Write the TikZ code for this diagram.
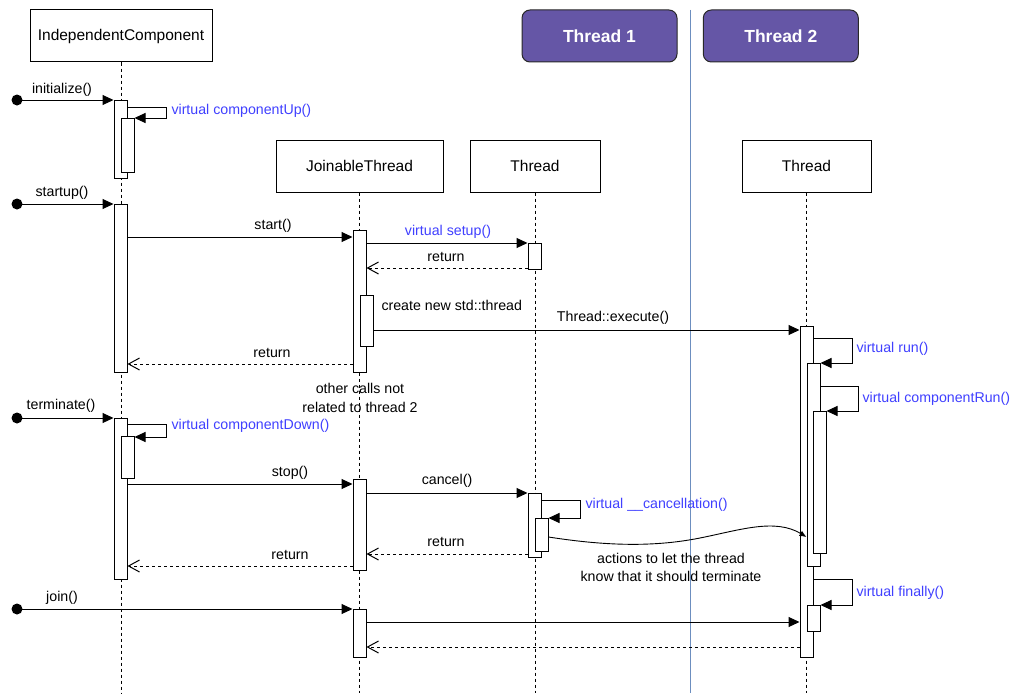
\documentclass[tikz,border=0pt]{standalone}
\usepackage{fontspec}
\setmainfont{Liberation Sans}
\usetikzlibrary{arrows.meta}

\definecolor{virt}{RGB}{64,64,255}
\definecolor{hdrfill}{RGB}{101,86,166}
\definecolor{hdrline}{RGB}{40,40,40}
\definecolor{divblue}{RGB}{108,142,191}

% activation bar: name, left x, top y, bottom y
\newcommand\actnode[4]{\node[act, minimum height={#4-#3}] (#1) at ({#2+6.5},{(#3+#4)/2}) {};}

\begin{document}
\begin{tikzpicture}[x=1pt, y=-1pt, line width=1pt,
  every node/.style={font=\fontsize{14.2}{18.5}\selectfont, inner sep=0pt},
  objbox/.style={draw, fill=white, minimum height=52pt, font=\fontsize{15.5}{18}\selectfont},
  hdrbox/.style={draw=hdrline, fill=hdrfill, rounded corners=8pt, text=white,
    minimum width=155pt, minimum height=52pt, font=\fontsize{17.5}{20}\selectfont\bfseries},
  act/.style={draw, fill=white, minimum width=13pt},
  lifeline/.style={dash pattern=on 3pt off 3pt},
  startdot/.style={circle, fill=black, minimum size=11pt},
  call/.style={-{Triangle[length=11pt,width=10pt]}},
  ret/.style={dash pattern=on 3pt off 3pt, -{Straight Barb[length=11pt,width=12pt]}},
  note/.style={-{Latex[length=7pt,width=6pt]}},
  lbl/.style={text=black},
  vlbl/.style={text=virt, anchor=west},
]
\useasboundingbox[fill=white] (0,0) rectangle (1011,693);

% thread divider
\coordinate (divtop) at (690,10);
\coordinate (divbot) at (690,693);
\draw[divblue] (divtop) -- (divbot);

% participants
\node[objbox, minimum width=182pt] (ic) at (121,36) {IndependentComponent};
\node[objbox, minimum width=167pt] (jt) at (359.5,166) {JoinableThread};
\node[objbox, minimum width=130pt] (tha) at (535,166) {Thread};
\node[objbox, minimum width=129pt] (thb) at (806.5,166) {Thread};
\node[hdrbox] (h1) at (599.5,36) {Thread 1};
\node[hdrbox] (h2) at (780.8,36) {Thread 2};

% lifelines
\foreach \p in {ic, jt, tha, thb}
  \draw[lifeline] (\p.south) -- (\p.south |- 0,693);

% activation bars
\actnode{ic1}{114}{100}{178}
\actnode{ic1n}{121}{118}{172}
\actnode{ic2}{114}{204}{372}
\actnode{ic3}{114}{418}{579}
\actnode{ic3n}{121}{436}{478}
\actnode{jt1}{353}{230}{372}
\actnode{jt1n}{360}{295}{346}
\actnode{jt2}{353}{479}{570}
\actnode{jt3}{353}{609}{657}
\actnode{ta1}{528}{243}{269}
\actnode{ta2}{528}{493}{557}
\actnode{ta2n}{535}{518}{551}
\actnode{tb1}{800}{326}{657}
\actnode{tb1n}{807}{363}{566}
\actnode{tb1nn}{813}{411}{553}
\actnode{tb1f}{807}{605}{631}

% entry points
\node[startdot] (d1) at (17,100) {};
\node[startdot] (d2) at (17,204) {};
\node[startdot] (d3) at (17,418) {};
\node[startdot] (d4) at (17,609) {};

% initialize()
\draw[call] (d1.center) -- (ic1.west |- 0,100);
\node[lbl] (l1) at (62,90) {initialize()};
\draw[call] (ic1.east |- 0,107) -- (166,107) |- (ic1n.east |- 0,118);
\node[vlbl] (l2) at (171,110.5) {virtual componentUp()};

% startup()
\draw[call] (d2.center) -- (ic2.west |- 0,204);
\node[lbl] (l3) at (62,192.5) {startup()};
\draw[call] (ic2.east |- 0,237) -- (jt1.west |- 0,237);
\node[lbl] (l4) at (273,225.5) {start()};
\draw[call] (jt1.east |- 0,243) -- (ta1.west |- 0,243);
\node[lbl, text=virt] (l5) at (448,231.5) {virtual setup()};
\draw[ret] (ta1.west |- 0,268) -- (jt1.east |- 0,268);
\node[lbl] (l6) at (446,256.5) {return};
\node[lbl, anchor=west] (l7) at (381,305) {create new std::thread};
\draw[call] (jt1n.east |- 0,330) -- (tb1.west |- 0,330);
\node[lbl] (l8) at (613,318) {Thread::execute()};
\draw[ret] (jt1.west |- 0,364) -- (ic2.east |- 0,364);
\node[lbl] (l9) at (272,353) {return};
\node[lbl, align=center] (l10) at (360,398) {other calls not\\related to thread 2};

% thread 2 body
\draw[call] (tb1.east |- 0,338) -- (852,338) |- (tb1n.east |- 0,363);
\node[vlbl] (l11) at (856,349) {virtual run()};
\draw[call] (tb1n.east |- 0,386) -- (858,386) |- (tb1nn.east |- 0,411);
\node[vlbl] (l12) at (862,399) {virtual componentRun()};
\draw[call] (tb1.east |- 0,579) -- (852,579) |- (tb1f.east |- 0,605);
\node[vlbl] (l13) at (856,592.5) {virtual finally()};

% terminate()
\draw[call] (d3.center) -- (ic3.west |- 0,418);
\node[lbl] (l14) at (61,406) {terminate()};
\draw[call] (ic3.east |- 0,424) -- (166,424) |- (ic3n.east |- 0,437);
\node[vlbl] (l15) at (171,426) {virtual componentDown()};
\draw[call] (ic3.east |- 0,484) -- (jt2.west |- 0,484);
\node[lbl] (l16) at (290,472.5) {stop()};
\draw[call] (jt2.east |- 0,493) -- (ta2.west |- 0,493);
\node[lbl] (l17) at (447,481) {cancel()};
\draw[call] (ta2.east |- 0,500) -- (580,500) |- (ta2n.east |- 0,518);
\node[vlbl] (l18) at (585,505) {virtual \_\_cancellation()};
\draw[note, line width=0.9pt] (ta2n.east |- 0,537) .. controls (600,545) and (650,548) .. (700,538)
  .. controls (740,530) and (775,518) .. (tb1n.west |- 0,537);
\node[lbl, align=center] (l19) at (671,567.5) {actions to let the thread\\know that it should terminate};
\draw[ret] (ta2.west |- 0,554) -- (jt2.east |- 0,554);
\node[lbl] (l20) at (446,542) {return};
\draw[ret] (jt2.west |- 0,566) -- (ic3.east |- 0,566);
\node[lbl] (l21) at (290,555) {return};

% join()
\draw[call] (d4.center) -- (jt3.west |- 0,609);
\node[lbl] (l22) at (62,597.5) {join()};
\draw[call] (jt3.east |- 0,622) -- (tb1.west |- 0,622);
\draw[ret] (tb1.west |- 0,647) -- (jt3.east |- 0,647);
\end{tikzpicture}
\end{document}
